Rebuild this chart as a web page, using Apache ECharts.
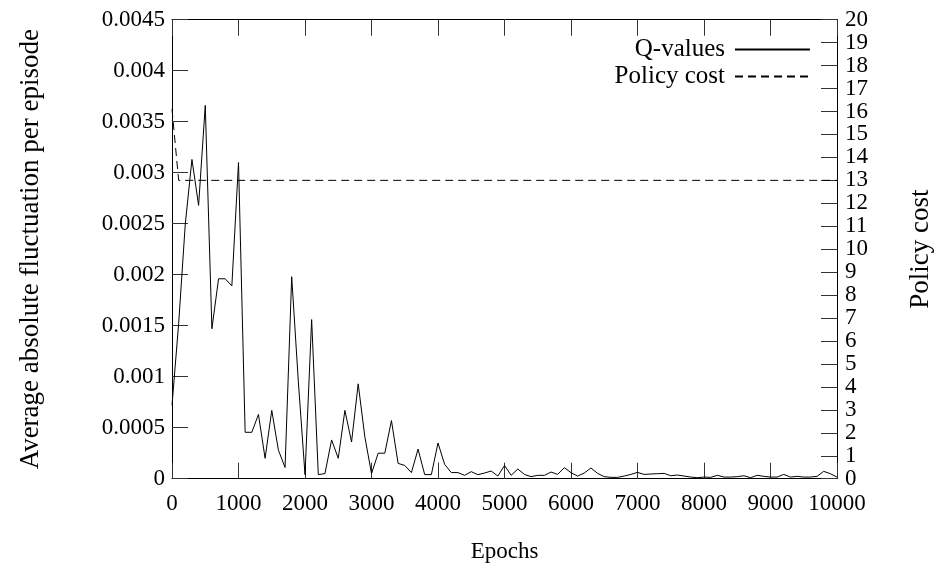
<!DOCTYPE html>
<html>
<head>
<meta charset="utf-8">
<script src="https://cdn.jsdelivr.net/npm/echarts@6/dist/echarts.min.js"></script>
<style>html,body{margin:0;padding:0;background:#fff}#c{width:943px;height:571px}</style>
</head>
<body>
<div id="c"></div>
<script>
var epochs = [0,100,200,300,400,500,600,700,800,900,1000,1100,1200,1300,1400,1500,1600,1700,1800,1900,2000,2100,2200,2300,2400,2500,2600,2700,2800,2900,3000,3100,3200,3300,3400,3500,3600,3700,3800,3900,4000,4100,4200,4300,4400,4500,4600,4700,4800,4900,5000,5100,5200,5300,5400,5500,5600,5700,5800,5900,6000,6100,6200,6300,6400,6500,6600,6700,6800,6900,7000,7100,7200,7300,7400,7500,7600,7700,7800,7900,8000,8100,8200,8300,8400,8500,8600,8700,8800,8900,9000,9100,9200,9300,9400,9500,9600,9700,9800,9900,10000];
var qValues = [0.00072,0.00152,0.00250,0.00313,0.00268,0.00366,0.00147,0.00196,0.00196,0.00189,0.00310,0.000455,0.000455,0.00063,0.00020,0.00067,0.00028,0.00011,0.00198,0.00095,0.00004,0.00156,0.00004,0.00005,0.00038,0.00020,0.00067,0.00036,0.00093,0.00041,0.00005,0.00025,0.00025,0.00057,0.00015,0.00013,0.00006,0.00029,0.00004,0.00004,0.00035,0.00014,0.00006,0.00006,0.000033,0.000069,0.000039,0.000056,0.000075,0.000026,0.00013,0.000033,0.000095,0.000042,0.00002,0.000033,0.000033,0.000065,0.000042,0.000108,0.000059,0.000026,0.000056,0.000105,0.000052,0.00002,0.000013,0.000013,0.000026,0.000042,0.000062,0.000042,0.000046,0.000049,0.000052,0.000029,0.000036,0.000026,0.000016,0.00001,0.000016,0.000013,0.000033,0.000016,0.000016,0.00002,0.000029,0.00001,0.000033,0.000023,0.000016,0.000016,0.000042,0.000016,0.000023,0.000016,0.000016,0.000023,0.000072,0.000049,0.000016];
var policyEpochs = [0,100,10000];
var policyCost = [16.1,13.0,13.0];
var leftTicks = ['0','0.0005','0.001','0.0015','0.002','0.0025','0.003','0.0035','0.004','0.0045'];
var seriesNames = ['Q-values','Policy cost'];
var axisTitles = {x:'Epochs', y:'Average absolute fluctuation per episode', y2:'Policy cost'};

var FONT = 'Liberation Serif';
var FS = 23;
var TFS = 27;
var qData = epochs.map(function(e,i){return [e,qValues[i]];});
var pData = policyEpochs.map(function(e,i){return [e,policyCost[i]];});
var chart = echarts.init(document.getElementById('c'), null, {renderer:'canvas'});
var axisLine = {show:true, onZero:false, lineStyle:{color:'#000', width:1}};
var tickStyle = {show:true, inside:true, length:16, lineStyle:{color:'#333', width:1}};
chart.setOption({
  animation:false,
  backgroundColor:'#fff',
  textStyle:{fontFamily:FONT, color:'#000'},
  grid:{left:172, right:106, top:19.7, bottom:92.3, containLabel:false},
  legend:{
    data:[{name:seriesNames[0]},{name:seriesNames[1]}],
    orient:'vertical', right:127, top:32, align:'right',
    itemWidth:75, itemHeight:14, itemGap:2,
    itemStyle:{color:'rgba(0,0,0,0)', borderWidth:0, opacity:0},
    textStyle:{fontFamily:FONT, fontSize:25, color:'#000', padding:[0,5,0,0]},
    selectedMode:false
  },
  xAxis:[{
    type:'value', min:0, max:10000, interval:1000, position:'bottom',
    name:axisTitles.x, nameLocation:'middle', nameGap:62,
    nameTextStyle:{fontFamily:FONT, fontSize:FS, color:'#000'},
    axisLine:axisLine, axisTick:tickStyle,
    axisLabel:{fontFamily:FONT, fontSize:FS, color:'#000', margin:14, formatter:function(v){return String(v);}},
    splitLine:{show:false}
  },{
    type:'value', min:0, max:10000, interval:1000, position:'top',
    axisLine:axisLine, axisTick:tickStyle, axisLabel:{show:false}, splitLine:{show:false}
  }],
  yAxis:[{
    type:'value', min:0, max:0.0045, interval:0.0005, position:'left',
    name:axisTitles.y, nameLocation:'middle', nameGap:128, nameRotate:90,
    nameTextStyle:{fontFamily:FONT, fontSize:TFS, color:'#000'},
    axisLine:axisLine, axisTick:tickStyle,
    axisLabel:{fontFamily:FONT, fontSize:FS, color:'#000', margin:7,
      formatter:function(v){var k=Math.round(v/0.0005); return leftTicks[k]!==undefined?leftTicks[k]:String(v);}},
    splitLine:{show:false}
  },{
    type:'value', min:0, max:20, interval:1, position:'right',
    name:axisTitles.y2, nameLocation:'middle', nameGap:70, nameRotate:90,
    nameTextStyle:{fontFamily:FONT, fontSize:TFS, color:'#000'},
    axisLine:axisLine, axisTick:tickStyle,
    axisLabel:{fontFamily:FONT, fontSize:FS, color:'#000', margin:8},
    splitLine:{show:false}
  }],
  series:[{
    name:seriesNames[0], type:'line', xAxisIndex:0, yAxisIndex:0, data:qData,
    symbol:'none', lineStyle:{color:'#000', width:1}, itemStyle:{color:'#000'}
  },{
    name:seriesNames[1], type:'line', xAxisIndex:0, yAxisIndex:1, data:pData,
    symbol:'none', lineStyle:{color:'#000', width:1, type:[8,5]}, itemStyle:{color:'#000'}
  }]
});
</script>
</body>
</html>
